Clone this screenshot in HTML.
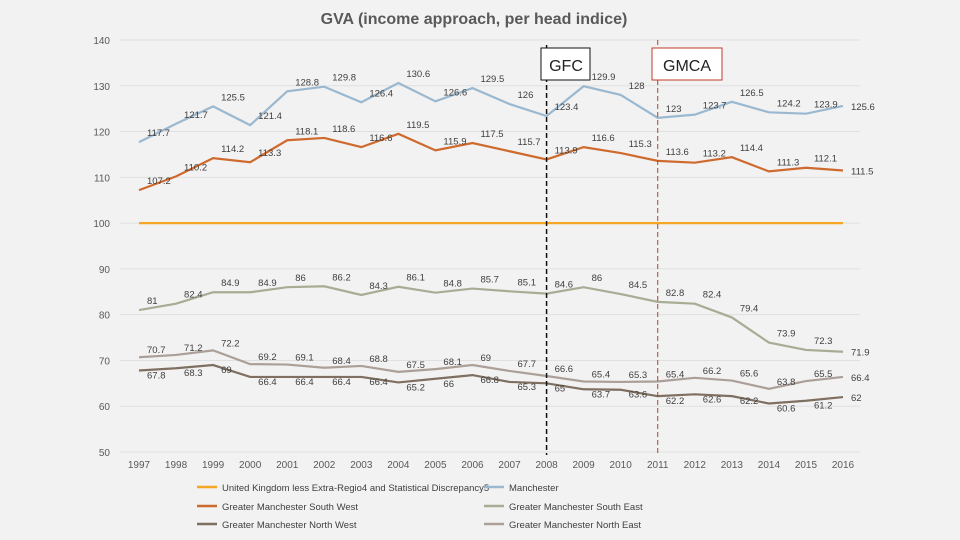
<!DOCTYPE html>
<html><head><meta charset="utf-8">
<style>
body{margin:0;background:#f2f2f2;}
svg{display:block;font-family:"Liberation Sans",sans-serif;}
</style></head>
<body>
<svg id="chart" width="960" height="540" viewBox="0 0 960 540">
<rect width="960" height="540" fill="#f2f2f2"/>
<text x="474" y="24" text-anchor="middle" font-size="16" font-weight="bold" fill="#595959">GVA (income approach, per head indice)</text>
<g id="grid"></g><g id="marks"></g><g id="labels"></g>
</svg>
<script>
const years=[1997,1998,1999,2000,2001,2002,2003,2004,2005,2006,2007,2008,2009,2010,2011,2012,2013,2014,2015,2016];
const yTicks=[50,60,70,80,90,100,110,120,130,140];
const ukValues=[100,100,100,100,100,100,100,100,100,100,100,100,100,100,100,100,100,100,100,100];
const manValues=[117.7,121.7,125.5,121.4,128.8,129.8,126.4,130.6,126.6,129.5,126,123.4,129.9,128,123,123.7,126.5,124.2,123.9,125.6];
const swValues=[107.2,110.2,114.2,113.3,118.1,118.6,116.6,119.5,115.9,117.5,115.7,113.9,116.6,115.3,113.6,113.2,114.4,111.3,112.1,111.5];
const seValues=[81,82.4,84.9,84.9,86,86.2,84.3,86.1,84.8,85.7,85.1,84.6,86,84.5,82.8,82.4,79.4,73.9,72.3,71.9];
const neValues=[70.7,71.2,72.2,69.2,69.1,68.4,68.8,67.5,68.1,69,67.7,66.6,65.4,65.3,65.4,66.2,65.6,63.8,65.5,66.4];
const nwValues=[67.8,68.3,69,66.4,66.4,66.4,66.4,65.2,66,66.8,65.3,65,63.7,63.6,62.2,62.6,62.2,60.6,61.2,62];
const NS="http://www.w3.org/2000/svg";
const x=i=>139+i*(843-139)/(years.length-1);
const y=v=>452-(v-50)*(452-40)/90;
function mk(tag,attrs,parent,txt){const e=document.createElementNS(NS,tag);for(const k in attrs)e.setAttribute(k,attrs[k]);if(txt!==undefined)e.textContent=txt;parent.appendChild(e);return e;}
const grid=document.getElementById('grid'),marks=document.getElementById('marks'),labels=document.getElementById('labels');
yTicks.forEach(t=>{
 const l=mk('line',{x1:120,x2:860,y1:y(t),y2:y(t),stroke:'#e0e0e0','stroke-width':1},grid);
 
 
 const tx=mk('text',{x:110,y:y(t)+4,'text-anchor':'end','font-size':10,fill:'#595959'},grid,t);
 
 
});
years.forEach((yr,i)=>{
 const tx=mk('text',{x:x(i),y:468,'text-anchor':'middle','font-size':10,fill:'#595959'},grid,yr);
 
 
});
const series=[
 {n:'uk',v:ukValues,c:'#f5a623',lab:false},
 {n:'manchester',v:manValues,c:'#9ab8d0',lab:true,dy:-6},
 {n:'south-west',v:swValues,c:'#cf6a2e',lab:true,dy:-6},
 {n:'south-east',v:seValues,c:'#a6ad94',lab:true,dy:-6},
 {n:'north-east',v:neValues,c:'#ab9f98',lab:true,dy:-4},
 {n:'north-west',v:nwValues,c:'#7f6f60',lab:true,dy:8}
];
series.forEach(s=>{
 const p=mk('polyline',{points:s.v.map((v,i)=>x(i)+','+y(v)).join(' '),fill:'none',stroke:s.c,'stroke-width':2.2},marks);
 
 
 if(s.lab)s.v.forEach((v,i)=>{
  const last=i===s.v.length-1;
  const t=mk('text',{x:last?x(i)+8:x(i)+8,y:last?y(v)+4:y(v)+s.dy,'font-size':9.5,fill:'#404040'},labels,v);
  
  
 });
});
// event lines
const g1=mk('line',{x1:x(11),x2:x(11),y1:45,y2:455,stroke:'#111','stroke-width':1.5,'stroke-dasharray':'5,3'},marks);


const g2=mk('line',{x1:x(14),x2:x(14),y1:40,y2:455,stroke:'#c0392b','stroke-width':1,'stroke-dasharray':'5,3'},marks);


const b1=mk('rect',{x:541,y:48,width:49,height:32,fill:'#fff',stroke:'#111','stroke-width':1},labels);


const t1=mk('text',{x:566,y:71,'text-anchor':'middle','font-size':16,fill:'#222'},labels,'GFC');


const b2=mk('rect',{x:652,y:48,width:70,height:32,fill:'#fff',stroke:'#c0392b','stroke-width':1},labels);


const t2=mk('text',{x:687,y:71,'text-anchor':'middle','font-size':16,fill:'#222'},labels,'GMCA');


// legend
const legend=[
 ['United Kingdom less Extra-Regio4 and Statistical Discrepancy5','#f5a623',197,487],
 ['Manchester','#9ab8d0',484,487],
 ['Greater Manchester South West','#cf6a2e',197,506],
 ['Greater Manchester South East','#a6ad94',484,506],
 ['Greater Manchester North West','#7f6f60',197,524],
 ['Greater Manchester North East','#ab9f98',484,524]
];
legend.forEach((L,k)=>{
 const g=mk('g',{},labels);
 
 
 mk('line',{x1:L[2],x2:L[2]+20,y1:L[3],y2:L[3],stroke:L[1],'stroke-width':2.5},g);
 mk('text',{x:L[2]+25,y:L[3]+4,'font-size':9.5,fill:'#404040'},g,L[0]);
});
</script>
</body></html>
